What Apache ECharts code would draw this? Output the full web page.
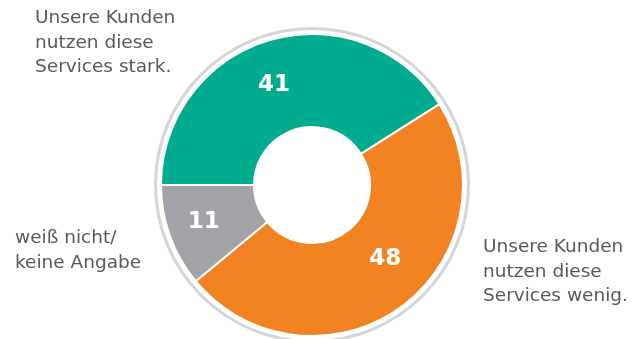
<!DOCTYPE html>
<html>
<head>
<meta charset="utf-8">
<script src="https://cdn.jsdelivr.net/npm/echarts@6/dist/echarts.min.js"></script>
<style>
  html, body { margin: 0; padding: 0; background: #fff; }
  #chart { width: 638px; height: 339px; }
</style>
</head>
<body>
<div id="chart"></div>
<script>
// Werte aus der Grafik
const categories = [
  'Unsere Kunden\nnutzen diese\nServices stark.',
  'Unsere Kunden\nnutzen diese\nServices wenig.',
  'weiß nicht/\nkeine Angabe'
]
const values = [41, 48, 11]
const colors = ['#00ab8e', '#f28322', '#a2a3a6']
// label nudges so the numbers sit like in the original
const labelOffsets = [[-8, 3], [10, -13], [-7, 1]]

const chart = echarts.init(document.getElementById('chart'))

const center = [312, 185]
const textStyle = { fontFamily: 'DejaVu Sans', fontSize: 18.5, fill: '#58595b', lineHeight: 24.5 }

chart.setOption({
  animation: false,
  series: [
    {
      // grauer Außenring
      type: 'pie',
      silent: true,
      center: center,
      radius: [155, 158],
      label: { show: false },
      labelLine: { show: false },
      itemStyle: { color: '#d4d5d7' },
      data: [1],
    },
    {
      type: 'pie',
      center: center,
      radius: [58, 151],
      startAngle: 180,
      clockwise: true,
      itemStyle: { borderColor: '#fff', borderWidth: 2 },
      label: {
        show: true,
        position: 'inside',
        formatter: '{c}',
        color: '#fff',
        fontFamily: 'DejaVu Sans',
        fontWeight: 'bold',
        fontSize: 23,
      },
      labelLine: { show: false },
      data: values.map((v, i) => ({
        name: categories[i],
        value: v,
        itemStyle: { color: colors[i] },
        label: { offset: labelOffsets[i] },
      })),
    },
  ],
  graphic: [
    { type: 'text', left: 35, top: 6, style: { ...textStyle, text: categories[0] } },
    { type: 'text', left: 483, top: 235, style: { ...textStyle, text: categories[1] } },
    { type: 'text', left: 15, top: 226, style: { ...textStyle, text: categories[2] } },
  ],
})
</script>
</body>
</html>
